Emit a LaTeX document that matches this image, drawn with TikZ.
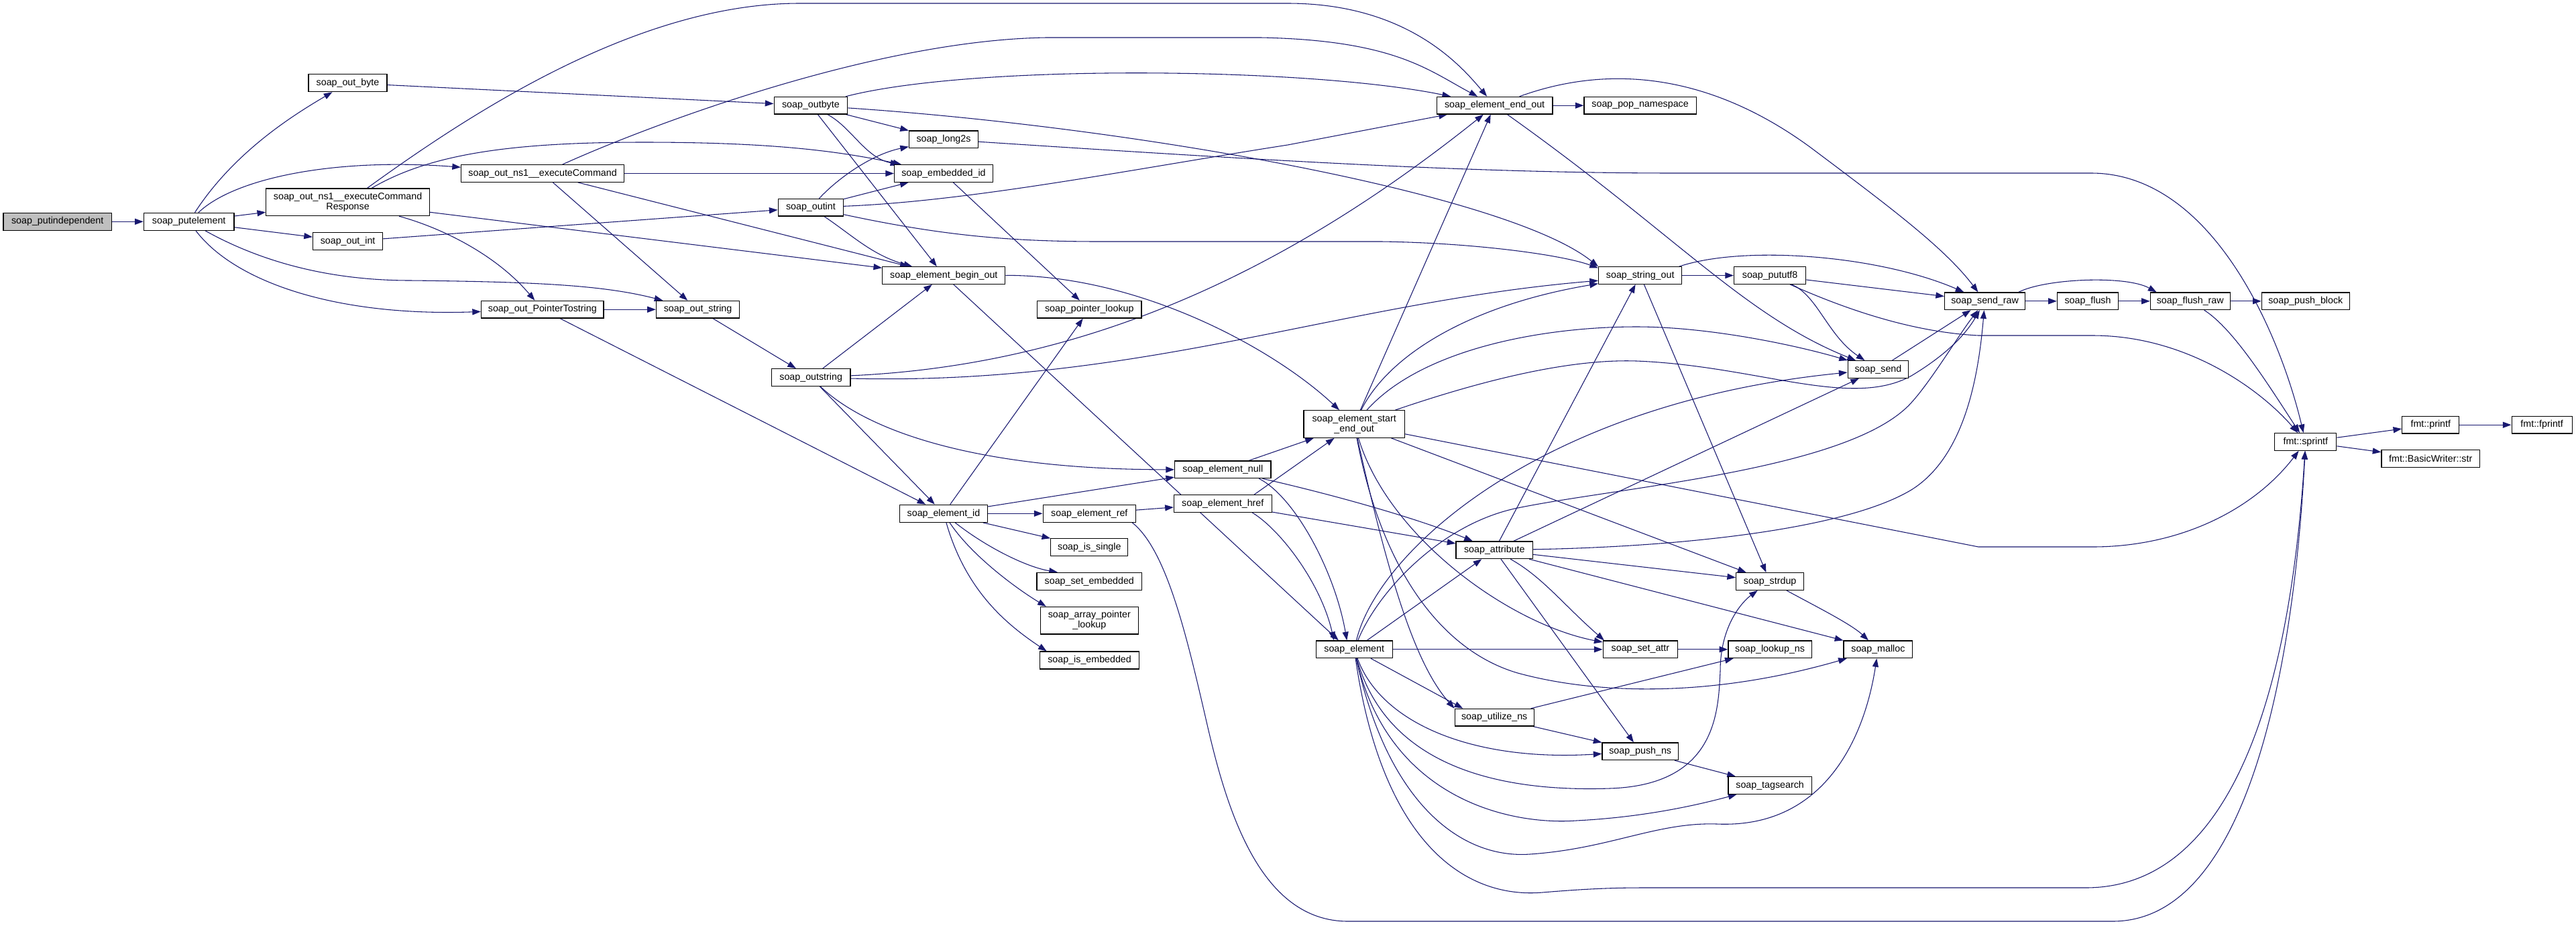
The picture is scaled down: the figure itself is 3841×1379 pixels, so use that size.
\documentclass[tikz,border=0pt]{standalone}
\usepackage{fontspec}
\setmainfont{Liberation Sans}
\usetikzlibrary{arrows.meta}
\definecolor{mblue}{HTML}{191970}
\definecolor{rootgray}{HTML}{BFBFBF}
\pgfdeclarelayer{bg}
\pgfsetlayers{bg,main}
\tikzset{
  nd/.style={draw=black, line width=0.9pt, fill=white, inner sep=0pt, align=center,
    font=\fontsize{10.7}{11.3}\selectfont},
  ed/.style={draw=mblue, line width=0.8pt, -{Triangle[length=9.5pt,width=6.8pt]}}
}
\newcommand\mynode[7][]{\node[nd,#1,minimum width=#5*0.75pt,minimum height=#6*0.75pt] (#2) at (#3,#4) {#7};}
\begin{document}
\begin{tikzpicture}[x=0.75pt,y=-0.75pt]
\useasboundingbox (0,0) rectangle (3841,1379);
\mynode[fill=rootgray]{putind}{85.7}{330.3}{161.6}{26}{soap\_putindependent}
\mynode{putel}{281.7}{330.3}{134.7}{26}{soap\_putelement}
\mynode{outbytea}{518.5}{123.7}{117}{26}{soap\_out\_byte}
\mynode{ecr}{518.6}{301.3}{243.7}{40.7}{soap\_out\_ns1\_\_executeCommand\\Response}
\mynode{ec}{809.1}{258.5}{243}{25.6}{soap\_out\_ns1\_\_executeCommand}
\mynode{outinta}{518.6}{359.7}{104.1}{26}{soap\_out\_int}
\mynode{ptr}{808.8}{461.2}{182.4}{25.7}{soap\_out\_PointerTostring}
\mynode{outbyte}{1208.9}{157.2}{109.6}{25.7}{soap\_outbyte}
\mynode{long2s}{1407}{207.8}{102.9}{25.7}{soap\_long2s}
\mynode{embid}{1407}{258.5}{146.9}{25.6}{soap\_embedded\_id}
\mynode{outint}{1208.9}{309.2}{97.4}{25.7}{soap\_outint}
\mynode{beginout}{1407.3}{410.5}{183.1}{25.6}{soap\_element\_begin\_out}
\mynode{outstr}{1040.6}{461.2}{124.3}{25.7}{soap\_out\_string}
\mynode{ptrlookup}{1624.3}{461.2}{155.5}{25.7}{soap\_pointer\_lookup}
\mynode{endout}{2228.6}{157.2}{172.7}{25.7}{soap\_element\_end\_out}
\mynode{popns}{2445.6}{157.2}{167.2}{25.7}{soap\_pop\_namespace}
\mynode{strout}{2445.7}{410.5}{124.3}{25.6}{soap\_string\_out}
\mynode{pututf8}{2639.1}{410.5}{107.2}{25.6}{soap\_pututf8}
\mynode{sendraw}{2959.6}{448.8}{120}{25.7}{soap\_send\_raw}
\mynode{flush}{3113}{448.8}{91.2}{25.7}{soap\_flush}
\mynode{flushraw}{3265.7}{448.8}{118.8}{25.7}{soap\_flush\_raw}
\mynode{pushblock}{3437.8}{448.8}{131}{25.7}{soap\_push\_block}
\mynode{sprintf}{3437.8}{658.5}{91.9}{25.6}{fmt::sprintf}
\mynode{printf}{3624.3}{633.2}{85.1}{25.7}{fmt::printf}
\mynode{fprintf}{3790.1}{633.2}{90}{25.7}{fmt::fprintf}
\mynode{bwstr}{3624.2}{683.7}{146.4}{26}{fmt::BasicWriter::str}
\mynode{outstring}{1209.2}{562.5}{117.6}{25.6}{soap\_outstring}
\mynode{null}{1823.3}{699.8}{143.3}{25.7}{soap\_element\_null}
\mynode{href}{1823.3}{750.5}{145.7}{25.6}{soap\_element\_href}
\mynode{elid}{1407}{765.3}{131.1}{26}{soap\_element\_id}
\mynode{elref}{1624.3}{765.3}{138.4}{26}{soap\_element\_ref}
\mynode{issingle}{1624.3}{815.7}{115}{26}{soap\_is\_single}
\mynode{setemb}{1624.3}{866.3}{156.7}{26}{soap\_set\_embedded}
\mynode{arrptr}{1624.3}{924.7}{145.8}{40.7}{soap\_array\_pointer\\\_lookup}
\mynode{isemb}{1624.6}{984}{147.6}{26}{soap\_is\_embedded}
\mynode{seo}{2019.2}{632}{150.6}{40.6}{soap\_element\_start\\\_end\_out}
\mynode{send}{2800.4}{550.5}{90.6}{25.6}{soap\_send}
\mynode{attr}{2228.3}{819.8}{114.5}{25.7}{soap\_attribute}
\mynode{strdup}{2639.1}{866.5}{101}{25.6}{soap\_strdup}
\mynode{element}{2019.2}{967.8}{113.9}{25.7}{soap\_element}
\mynode{setattr}{2445.9}{967.8}{111.4}{25.7}{soap\_set\_attr}
\mynode{lookupns}{2639.1}{967.8}{124.3}{25.7}{soap\_lookup\_ns}
\mynode{malloc}{2800.4}{967.8}{102.9}{25.7}{soap\_malloc}
\mynode{utilns}{2228.2}{1069.2}{118.1}{25.7}{soap\_utilize\_ns}
\mynode{pushns}{2445.7}{1119.8}{113.3}{25.7}{soap\_push\_ns}
\mynode{tagsearch}{2639.1}{1170.5}{124.3}{25.6}{soap\_tagsearch}
\begin{pgfonlayer}{bg}
\fill[white] (0,0) rectangle (3841,1379);
% putindependent / putelement
\draw[ed] (putind) -- (putel);
\draw[ed] (putel) .. controls (350,225) and (440,170) .. (outbytea);
\draw[ed] (putel) -- (ecr);
\draw[ed] (putel) .. controls (350,265) and (500,235) .. (ec);
\draw[ed] (putel) -- (outinta);
\draw[ed] (putel) .. controls (380,385) and (480,418) .. (612,418) .. controls (800,420) and (900,425) .. (outstr);
\draw[ed] (putel) .. controls (350,420) and (500,472) .. (ptr);
\draw[ed] (outbytea) -- (outbyte);
% executeCommandResponse
\draw[ed] (ecr) .. controls (700,170) and (950,5) .. (1192,5) -- (1920,5) .. controls (2100,5) and (2180,100) .. (endout);
\draw[ed] (ecr) .. controls (640,230) and (760,212) .. (960,212) .. controls (1150,212) and (1250,225) .. (embid);
\draw[ed] (ecr) -- (beginout);
\draw[ed] (ecr) .. controls (660,340) and (740,380) .. (ptr);
% executeCommand
\draw[ed] (ec) .. controls (960,190) and (1300,60) .. (1560,56) -- (1880,56) .. controls (2080,60) and (2130,105) .. (endout);
\draw[ed] (ec) -- (embid);
\draw[ed] (ec) -- (beginout);
\draw[ed] (ec) -- (outstr);
\draw[ed] (outinta) -- (outint);
\draw[ed] (ptr) -- (outstr);
\draw[ed] (ptr) -- (elid);
% outbyte
\draw[ed] (outbyte) .. controls (1450,95) and (1950,100) .. (endout);
\draw[ed] (outbyte) .. controls (1700,190) and (2250,290) .. (strout.168);
\draw[ed] (outbyte) -- (long2s);
\draw[ed] (outbyte) .. controls (1270,190) and (1290,235) .. (embid);
\draw[ed] (outbyte) -- (beginout);
\draw[ed] (long2s) .. controls (1900,240) and (2200,258) .. (2500,258) -- (3120,258) .. controls (3300,260) and (3400,500) .. (sprintf);
% outint
\draw[ed] (outint) .. controls (1250,265) and (1300,230) .. (long2s);
\draw[ed] (outint) -- (embid);
\draw[ed] (outint) .. controls (1450,300) and (1700,250) .. (1920,216) -- (endout);
\draw[ed] (outint) .. controls (1400,350) and (1500,360) .. (1640,360) -- (2060,360) .. controls (2200,362) and (2330,380) .. (strout.170);
\draw[ed] (outint) .. controls (1270,350) and (1300,380) .. (beginout);
\draw[ed] (embid) -- (ptrlookup);
% begin_out
\draw[ed] (beginout) .. controls (1700,410) and (1900,520) .. (seo);
\draw[ed] (beginout) -- (element.150);
% outstring
\draw[ed] (outstring) -- (beginout);
\draw[ed] (outstring) .. controls (1600,545) and (1900,420) .. (endout);
\draw[ed] (outstring) .. controls (1700,575) and (2000,450) .. (strout.187);
\draw[ed] (outstring) -- (elid);
\draw[ed] (outstring) .. controls (1290,640) and (1450,700) .. (null);
\draw[ed] (outstr) -- (outstring);
% element_id
\draw[ed] (elid) -- (ptrlookup);
\draw[ed] (elid) -- (null);
\draw[ed] (elid) -- (elref);
\draw[ed] (elid) -- (issingle);
\draw[ed] (elid) .. controls (1470,815) and (1530,845) .. (setemb.164);
\draw[ed] (elid) .. controls (1450,830) and (1520,880) .. (arrptr.162);
\draw[ed] (elid) .. controls (1440,880) and (1500,930) .. (isemb.168);
\draw[ed] (elref) -- (href);
\draw[ed] (elref.-12) .. controls (1740,820) and (1770,950) .. (1800,1080) .. controls (1830,1210) and (1880,1373) .. (2010,1373) -- (3150,1373) .. controls (3350,1373) and (3420,1000) .. (sprintf);
% null / href
\draw[ed] (null) -- (seo);
\draw[ed] (null) .. controls (2000,740) and (2120,775) .. (attr);
\draw[ed] (null.-14) .. controls (1930,740) and (1990,850) .. (element.129);
\draw[ed] (href.16) -- (seo);
\draw[ed] (href) -- (attr);
\draw[ed] (href.-17) .. controls (1910,790) and (1970,870) .. (element.156);
% start_end_out
\draw[ed] (seo) -- (endout);
\draw[ed] (seo) .. controls (2070,530) and (2190,455) .. (strout.191);
\draw[ed] (seo) .. controls (2120,520) and (2300,487) .. (2440,487) .. controls (2550,487) and (2680,515) .. (send);
\draw[ed] (seo) .. controls (2230,560) and (2350,535) .. (2440,538) .. controls (2620,545) and (2760,610) .. (2850,560) .. controls (2900,530) and (2930,500) .. (sendraw);
\draw[ed] (seo) -- (2950,815) -- (3120,815) .. controls (3250,815) and (3360,760) .. (sprintf);
\draw[ed] (seo) -- (strdup);
\draw[ed] (seo) .. controls (2070,860) and (2110,990) .. (utilns.north west);
\draw[ed] (seo) .. controls (2060,850) and (2150,970) .. (2263,1003) .. controls (2380,1035) and (2550,1040) .. (malloc);
\draw[ed] (seo) .. controls (2070,800) and (2250,930) .. (setattr);
% element
\draw[ed] (element) -- (attr);
\draw[ed] (element) .. controls (2055,820) and (2300,600) .. (send);
\draw[ed] (element) .. controls (2055,880) and (2150,780) .. (2263,757) .. controls (2420,725) and (2760,700) .. (2850,600) .. controls (2880,567) and (2920,500) .. (sendraw);
\draw[ed] (element) -- (utilns.164);
\draw[ed] (element) .. controls (2060,1080) and (2200,1135) .. (pushns);
\draw[ed] (element) .. controls (2070,1150) and (2250,1180) .. (2400,1175) .. controls (2560,1170) and (2562,1060) .. (2565,1000) .. controls (2565,930) and (2600,895) .. (strdup);
\draw[ed] (element) .. controls (2070,1190) and (2250,1230) .. (2350,1223) .. controls (2450,1218) and (2530,1200) .. (tagsearch);
\draw[ed] (element) .. controls (2070,1200) and (2180,1280) .. (2281,1273) .. controls (2400,1265) and (2470,1225) .. (2560,1228) .. controls (2720,1235) and (2780,1100) .. (malloc);
\draw[ed] (element) .. controls (2060,1250) and (2180,1340) .. (2300,1330) .. controls (2360,1325) and (2400,1323) .. (2450,1323) -- (3110,1323) .. controls (3300,1323) and (3410,1100) .. (sprintf);
\draw[ed] (element) -- (setattr);
% attribute
\draw[ed] (attr) -- (strout);
\draw[ed] (attr) -- (send);
\draw[ed] (attr) .. controls (2500,815) and (2750,790) .. (2850,730) .. controls (2930,680) and (2950,560) .. (sendraw);
\draw[ed] (attr) -- (strdup);
\draw[ed] (attr) -- (malloc);
\draw[ed] (attr) .. controls (2300,860) and (2330,900) .. (setattr.166);
\draw[ed] (attr) -- (pushns);
% namespaces
\draw[ed] (utilns) -- (lookupns);
\draw[ed] (utilns) -- (pushns);
\draw[ed] (pushns) -- (tagsearch);
\draw[ed] (setattr) -- (lookupns);
\draw[ed] (strdup) .. controls (2710,905) and (2760,930) .. (malloc);
% string_out / end_out
\draw[ed] (strout) -- (pututf8);
\draw[ed] (strout.13) .. controls (2600,365) and (2800,380) .. (sendraw);
\draw[ed] (strout) -- (strdup);
\draw[ed] (endout) -- (popns);
\draw[ed] (endout) .. controls (2400,95) and (2550,110) .. (2700,220) .. controls (2820,310) and (2900,370) .. (sendraw);
\draw[ed] (endout) .. controls (2500,350) and (2600,470) .. (send);
% pututf8 / send
\draw[ed] (pututf8) -- (sendraw);
\draw[ed] (pututf8) .. controls (2710,440) and (2725,500) .. (send);
\draw[ed] (pututf8) .. controls (2750,460) and (2850,495) .. (2950,500) -- (3120,500) .. controls (3260,500) and (3370,580) .. (sprintf);
\draw[ed] (send) -- (sendraw);
% send_raw chain
\draw[ed] (sendraw) -- (flush);
\draw[ed] (sendraw.15) .. controls (3050,415) and (3170,410) .. (flushraw.165);
\draw[ed] (flush) -- (flushraw);
\draw[ed] (flushraw) -- (pushblock);
\draw[ed] (flushraw) .. controls (3330,490) and (3380,570) .. (sprintf);
% fmt
\draw[ed] (sprintf) -- (printf);
\draw[ed] (sprintf) -- (bwstr);
\draw[ed] (printf) -- (fprintf);
\end{pgfonlayer}
\end{tikzpicture}
\end{document}
